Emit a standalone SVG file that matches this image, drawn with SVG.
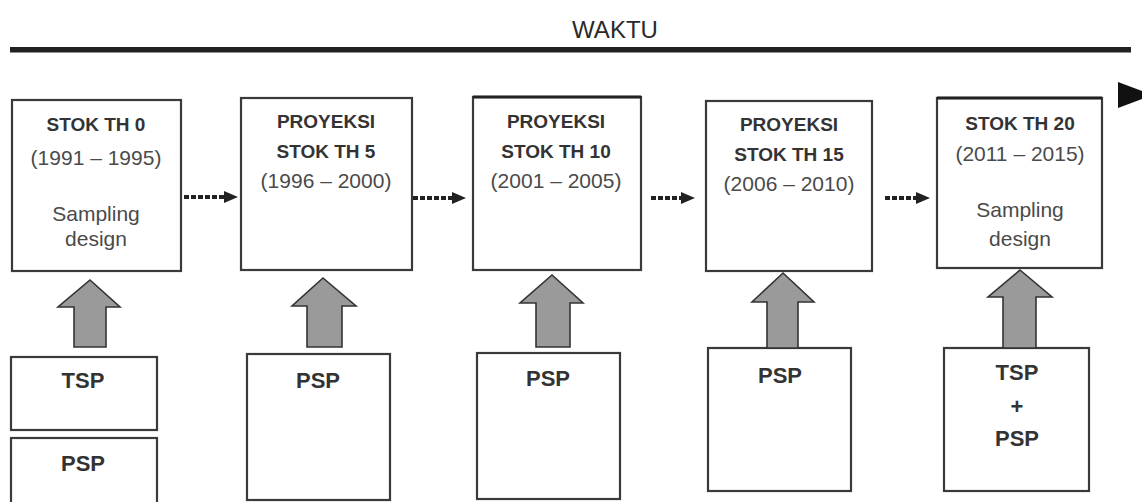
<svg xmlns="http://www.w3.org/2000/svg" width="1142" height="502" viewBox="0 0 1142 502">
<defs>
<style>
.box{fill:#fff;stroke:#3a3a3a;stroke-width:2.2}
.b{font-family:"Liberation Sans",Arial,sans-serif;font-weight:bold;font-size:19px;fill:#333;text-anchor:middle}
.r{font-family:"Liberation Sans",Arial,sans-serif;font-size:21px;fill:#4a4a4a;text-anchor:middle}
.big{font-family:"Liberation Sans",Arial,sans-serif;font-weight:bold;font-size:22px;fill:#333;text-anchor:middle}
.dot{stroke:#222;stroke-width:4;stroke-dasharray:5 2;fill:none}
.up{fill:#9a9a9a;stroke:#333;stroke-width:1.6;stroke-linejoin:miter}
</style>
<marker id="ah" markerUnits="userSpaceOnUse" markerWidth="14" markerHeight="12" refX="0" refY="6" orient="auto">
<path d="M0,0 L14,6 L0,12 z" fill="#222"/>
</marker>
</defs>
<rect width="1142" height="502" fill="#fff"/>

<g id="timeline">
<text x="615" y="38" font-family="Liberation Sans, Arial, sans-serif" font-size="24" fill="#2a2a2a" text-anchor="middle">WAKTU</text>
<rect x="10" y="47" width="1121" height="5.5" fill="#222"/>
<polygon points="1118,82 1153,95 1118,108" fill="#111"/>
</g>

<g id="stok0">
<rect class="box" x="12" y="100" width="169" height="171"/>
<text class="b" x="96" y="131">STOK TH 0</text>
<text class="r" x="96" y="165">(1991 – 1995)</text>
<text class="r" x="96" y="221">Sampling</text>
<text class="r" x="96" y="246">design</text>
</g>
<g id="proyeksi5">
<rect class="box" x="241" y="98" width="171" height="172"/>
<text class="b" x="326" y="128">PROYEKSI</text>
<text class="b" x="326" y="158">STOK TH 5</text>
<text class="r" x="326" y="188">(1996 – 2000)</text>
</g>
<g id="proyeksi10">
<rect class="box" x="473" y="97" width="168" height="173"/>
<line x1="473" y1="97" x2="641" y2="97" stroke="#222" stroke-width="3"/>
<text class="b" x="556" y="128">PROYEKSI</text>
<text class="b" x="556" y="158">STOK TH 10</text>
<text class="r" x="556" y="188">(2001 – 2005)</text>
</g>
<g id="proyeksi15">
<rect class="box" x="706" y="101" width="166" height="170"/>
<text class="b" x="789" y="131">PROYEKSI</text>
<text class="b" x="789" y="161">STOK TH 15</text>
<text class="r" x="789" y="191">(2006 – 2010)</text>
</g>
<g id="stok20">
<rect class="box" x="937" y="98" width="165" height="170"/>
<line x1="937" y1="98" x2="1102" y2="98" stroke="#222" stroke-width="3"/>
<text class="b" x="1020" y="130">STOK TH 20</text>
<text class="r" x="1020" y="161">(2011 – 2015)</text>
<text class="r" x="1020" y="217">Sampling</text>
<text class="r" x="1020" y="246">design</text>
</g>

<g id="tsp1">
<rect class="box" x="11" y="357" width="146" height="73"/>
<text class="big" x="83" y="388">TSP</text>
</g>
<g id="psp1">
<rect class="box" x="11" y="438" width="146" height="80"/>
<text class="big" x="83" y="471">PSP</text>
</g>
<g id="psp2">
<rect class="box" x="247" y="354" width="143" height="146"/>
<text class="big" x="318" y="388">PSP</text>
</g>
<g id="psp3">
<rect class="box" x="477" y="353" width="143" height="146"/>
<text class="big" x="548" y="386">PSP</text>
</g>
<g id="psp4">
<rect class="box" x="708" y="348" width="143" height="143"/>
<text class="big" x="780" y="383">PSP</text>
</g>
<g id="tsppsp5">
<rect class="box" x="944" y="348" width="145" height="143"/>
<text class="big" x="1017" y="380">TSP</text>
<text class="big" x="1017" y="414">+</text>
<text class="big" x="1017" y="446">PSP</text>
</g>

<g id="connectors">
<line class="dot" x1="184" y1="197" x2="224" y2="197" marker-end="url(#ah)"/>
<line class="dot" x1="413" y1="198" x2="452" y2="198" marker-end="url(#ah)"/>
<line class="dot" x1="651" y1="198" x2="681" y2="198" marker-end="url(#ah)"/>
<line class="dot" x1="885" y1="198" x2="916" y2="198" marker-end="url(#ah)"/>
<polygon class="up" points="90,280 120,307 106,307 106,347 74,347 74,307 58,307"/>
<polygon class="up" points="323,278 356,306 342,306 342,347 307,347 307,306 292,306"/>
<polygon class="up" points="552,275 583,303 570,303 570,347 536,347 536,303 520,303"/>
<polygon class="up" points="783,273 814,302 798,302 798,348 767,348 767,302 752,302"/>
<polygon class="up" points="1020,270 1052,297 1036,297 1036,348 1003,348 1003,297 988,297"/>
</g>
</svg>
